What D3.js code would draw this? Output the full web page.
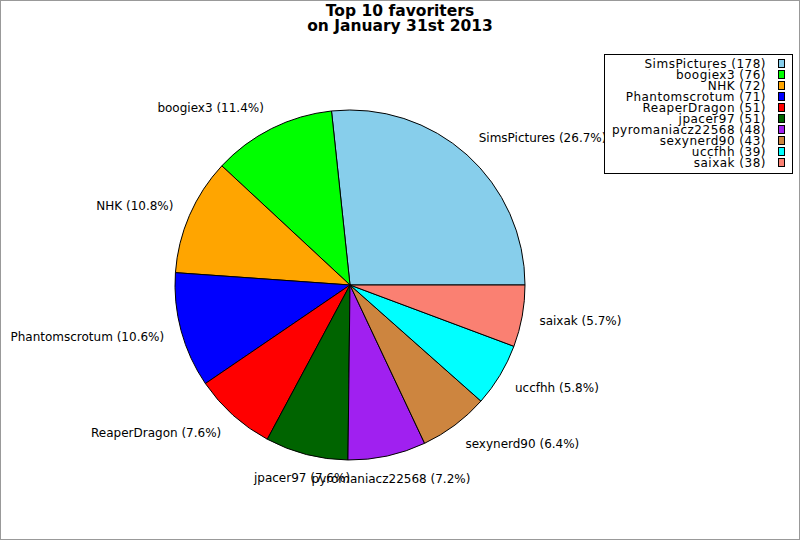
<!DOCTYPE html>
<html>
<head>
<meta charset="utf-8">
<script src="https://cdn.jsdelivr.net/npm/d3@7"></script>
<style>
  body { margin: 0; background: #fff; }
  text { font-family: "DejaVu Sans", sans-serif; }
</style>
</head>
<body>
<script>
// chart data
var names = ["SimsPictures", "boogiex3", "NHK", "Phantomscrotum", "ReaperDragon",
             "jpacer97", "pyromaniacz22568", "sexynerd90", "uccfhh", "saixak"];
var counts = [178, 76, 72, 71, 51, 51, 48, 43, 39, 38];
var colors = ["#87ceeb", "#00ff00", "#ffa500", "#0000ff", "#ff0000",
              "#006400", "#a020f0", "#cd853f", "#00ffff", "#fa8072"];
var titleLines = ["Top 10 favoriters", "on January 31st 2013"];

function draw() {
    var w = 800, h = 540;
    var cx = 350, cy = 285, r = 175;

    var svg = d3.select("body").append("svg")
        .attr("width", w)
        .attr("height", h);

    // grey frame round the picture
    svg.append("rect")
        .attr("x", 0.5).attr("y", 0.5)
        .attr("width", w - 1).attr("height", h - 1)
        .attr("fill", "#fff")
        .attr("stroke", "#999");

    // title
    svg.selectAll("text.title")
        .data(titleLines)
        .enter()
        .append("text")
        .attr("class", "title")
        .attr("x", 400)
        .attr("y", function(d, i) { return 16 + i * 14.5; })
        .attr("text-anchor", "middle")
        .style("font-size", "15.5px")
        .style("font-weight", "bold")
        .text(function(d) { return d; });

    var total = d3.sum(counts);
    var data = names.map(function(n, i) { return { name: n, value: counts[i], color: colors[i] }; });

    // start at 3 o'clock and go counter-clockwise
    var pie = d3.pie()
        .value(function(d) { return d.value; })
        .sort(null)
        .startAngle(Math.PI / 2)
        .endAngle(Math.PI / 2 - 2 * Math.PI);

    var arc = d3.arc().innerRadius(0).outerRadius(r);
    var arcs = pie(data);

    var g = svg.append("g").attr("transform", "translate(" + cx + "," + cy + ")");

    g.selectAll("path")
        .data(arcs)
        .enter()
        .append("path")
        .attr("d", arc)
        .attr("fill", function(d) { return d.data.color; })
        .attr("stroke", "#000")
        .attr("stroke-width", 1)
        .attr("stroke-linejoin", "round");

    // slice labels at 1.1 * radius
    var lr = r * 1.1;
    g.selectAll("text.lab")
        .data(arcs)
        .enter()
        .append("text")
        .attr("class", "lab")
        .each(function(d) {
            var a = (d.startAngle + d.endAngle) / 2;
            var cs = Math.sin(a), sn = Math.cos(a);   // math-style cos / sin
            var x = lr * cs;
            var y = -lr * sn - sn * 6;
            var anchor = Math.abs(cs) < 0.3 ? "middle" : (cs > 0 ? "start" : "end");
            d3.select(this)
                .attr("x", x)
                .attr("y", y)
                .attr("dy", "0.36em")
                .attr("text-anchor", anchor);
        })
        .style("font-size", "12px")
        .text(function(d) {
            return d.data.name + " (" + (d.data.value / total * 100).toFixed(1) + "%)";
        });

    // legend
    var lg = svg.append("g");
    lg.append("rect")
        .attr("x", 604.5).attr("y", 54.5)
        .attr("width", 188).attr("height", 119)
        .attr("fill", "#fff")
        .attr("stroke", "#000");

    var rows = lg.selectAll("g.row")
        .data(data)
        .enter()
        .append("g")
        .attr("class", "row")
        .attr("transform", function(d, i) { return "translate(0," + (64 + i * 11) + ")"; });

    rows.append("text")
        .attr("x", 766)
        .attr("dy", "0.36em")
        .attr("text-anchor", "end")
        .style("font-size", "12px")
        .style("letter-spacing", "0.5px")
        .text(function(d) { return d.name + " (" + d.value + ")"; });

    rows.append("rect")
        .attr("x", 778.5).attr("y", -4.5)
        .attr("width", 6).attr("height", 8)
        .attr("fill", function(d) { return d.color; })
        .attr("stroke", "#000");
}

window.onload = draw;
</script>
</body>
</html>
